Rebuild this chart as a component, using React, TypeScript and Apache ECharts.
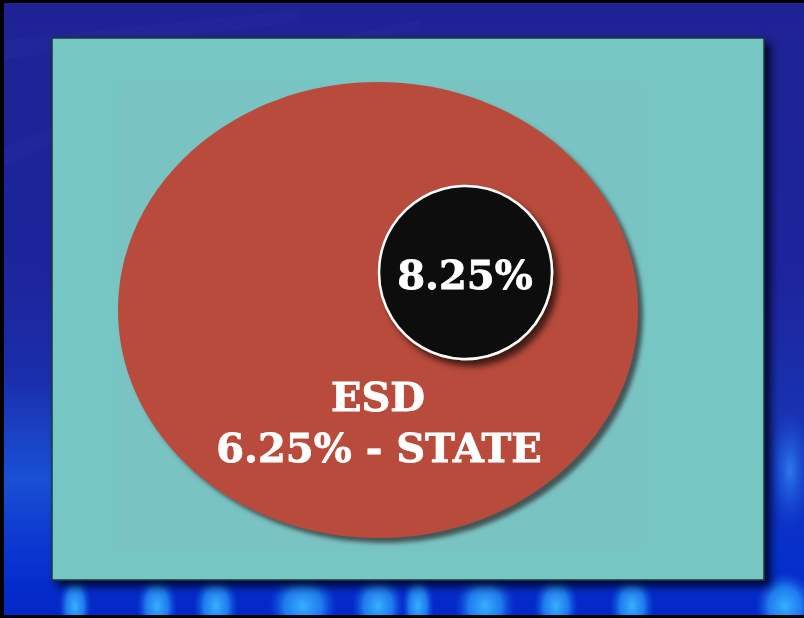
import React, { useEffect, useRef } from "react";
import * as echarts from "echarts";

// Data
const rateNames = ["ESD", "STATE"];
const rateValues = [8.25, 6.25]; // combined rate shown in circle, state rate
const bottomGlowX = [75, 157, 216, 303, 378, 418, 485, 556, 632, 785];
const bottomGlowW = [16, 20, 22, 34, 26, 16, 30, 22, 22, 30];

const FONT = "'DejaVu Serif', serif";

export default function App() {
  const ref = useRef<HTMLDivElement>(null);
  useEffect(() => {
    if (!ref.current) return;
    const chart = echarts.init(ref.current, undefined, { renderer: "svg" });
    const W = 804, H = 618;
    const glows = bottomGlowX.map((x, i) => ({
      type: "ellipse",
      shape: { cx: x, cy: 606, rx: bottomGlowW[i], ry: 34 },
      style: {
        fill: new echarts.graphic.RadialGradient(0.5, 0.5, 0.5, [
          { offset: 0, color: "rgba(55,175,255,1)" },
          { offset: 0.55, color: "rgba(40,150,250,0.75)" },
          { offset: 1, color: "rgba(20,90,230,0)" },
        ]),
      },
      silent: true,
    }));
    const streaks = [
      [[0, 40], [300, 10], [300, 22], [0, 60]],
      [[60, 90], [420, 20], [420, 30], [60, 104]],
      [[0, 150], [200, 60], [200, 70], [0, 168]],
    ].map((pts) => ({
      type: "polygon",
      shape: { points: pts },
      style: { fill: "rgba(120,130,230,0.04)" },
      silent: true,
    }));
    const pctText = (v: number) => v.toFixed(2) + "%";
    const textStyle = (text: string) => ({
      text,
      font: `bold 40px ${FONT}`,
      fill: "#ffffff",
      stroke: "#ffffff",
      lineWidth: 0.8,
      align: "center",
      verticalAlign: "middle",
    });
    chart.setOption({
      animation: false,
      graphic: [
        {
          type: "rect",
          shape: { x: 0, y: 0, width: W, height: H },
          style: {
            fill: new echarts.graphic.LinearGradient(0, 0, 0, 1, [
              { offset: 0, color: "#1e2294" },
              { offset: 0.45, color: "#1d249c" },
              { offset: 0.7, color: "#1734b4" },
              { offset: 0.9, color: "#0630cc" },
              { offset: 1, color: "#0228c8" },
            ]),
          },
          silent: true,
        },
        ...streaks,
        ...glows,
        {
          type: "ellipse",
          shape: { cx: 790, cy: 470, rx: 22, ry: 60 },
          style: {
            fill: new echarts.graphic.RadialGradient(0.5, 0.5, 0.5, [
              { offset: 0, color: "rgba(50,140,250,0.8)" },
              { offset: 1, color: "rgba(30,90,230,0)" },
            ]),
          },
          silent: true,
        },
        {
          type: "rect",
          shape: { x: 4, y: 380, width: 48, height: 200 },
          style: {
            fill: new echarts.graphic.LinearGradient(0, 0, 0, 1, [
              { offset: 0, color: "rgba(30,90,220,0)" },
              { offset: 0.5, color: "rgba(30,100,230,0.6)" },
              { offset: 1, color: "rgba(10,50,210,0.3)" },
            ]),
          },
          silent: true,
        },
        // outer black frame
        { type: "rect", shape: { x: 0, y: 0, width: W, height: 3 }, style: { fill: "#000" }, silent: true },
        { type: "rect", shape: { x: 0, y: 0, width: 4, height: H }, style: { fill: "#000" }, silent: true },
        { type: "rect", shape: { x: 0, y: 615, width: W, height: 3 }, style: { fill: "#000" }, silent: true },
        // panel
        {
          type: "rect",
          shape: { x: 52, y: 38, width: 712, height: 542 },
          style: {
            fill: "#76c7c4",
            stroke: "#1c3838",
            lineWidth: 1.5,
            shadowBlur: 8,
            shadowOffsetX: 6,
            shadowOffsetY: 6,
            shadowColor: "rgba(0,0,25,0.85)",
          },
          silent: true,
        },
        {
          type: "rect",
          shape: { x: 117, y: 83, width: 525, height: 468 },
          style: { fill: "#7ac3c3" },
          silent: true,
        },
        // big ellipse
        {
          type: "ellipse",
          shape: { cx: 378, cy: 310, rx: 260, ry: 228 },
          style: {
            fill: "#b84b3b",
            shadowBlur: 4,
            shadowOffsetX: 5,
            shadowOffsetY: 5,
            shadowColor: "rgba(60,75,75,0.9)",
          },
          silent: true,
        },
        // black circle
        {
          type: "circle",
          shape: { cx: 465.5, cy: 272.5, r: 86.5 },
          style: {
            fill: "#111111",
            stroke: "#ffffff",
            lineWidth: 2.5,
            shadowBlur: 6,
            shadowOffsetX: 5,
            shadowOffsetY: 6,
            shadowColor: "rgba(0,0,0,0.65)",
          },
          silent: true,
        },
        { type: "text", x: 465, y: 274, style: textStyle(pctText(rateValues[0])), silent: true },
        { type: "text", x: 378, y: 396, style: textStyle(rateNames[0]), silent: true },
        {
          type: "text",
          x: 379,
          y: 447,
          style: textStyle(`${pctText(rateValues[1])} - ${rateNames[1]}`),
          silent: true,
        },
      ],
    });
    return () => chart.dispose();
  }, []);
  return (
    <div
      ref={ref}
      style={{ position: "fixed", left: 0, top: 0, width: 804, height: 618 }}
    />
  );
}
